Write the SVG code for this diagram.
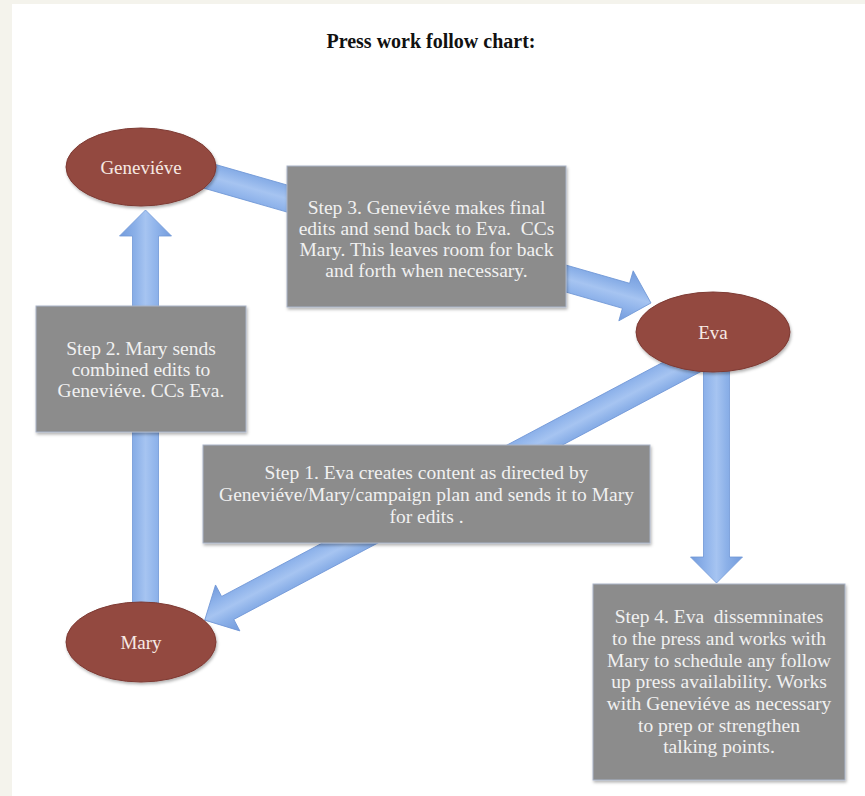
<svg xmlns="http://www.w3.org/2000/svg" width="865" height="796" viewBox="0 0 865 796">
  <defs>
    <style>
      .box { fill: #8c8c8c; stroke: #a9b4c8; stroke-width: 1; filter: url(#shadow); }
      .node { fill: #934840; stroke: #7d3a33; stroke-width: 1; filter: url(#shadow); }
      .arrow { fill: url(#blue); stroke: #7097d6; stroke-width: 0.8; }
      .t { font-family: "Liberation Serif", "Times New Roman", serif; font-size: 19.5px; fill: #f1f1f1; text-anchor: middle; }
      .n { font-family: "Liberation Serif", "Times New Roman", serif; font-size: 19px; fill: #f7e9e4; text-anchor: middle; }
      .title { font-family: "Liberation Serif", "Times New Roman", serif; font-size: 20px; font-weight: bold; fill: #111; text-anchor: middle; }
    </style>
    <linearGradient id="blue" x1="0" y1="0" x2="0" y2="1">
      <stop offset="0" stop-color="#739bdc"/>
      <stop offset="0.3" stop-color="#8bb0e8"/>
      <stop offset="0.5" stop-color="#a6c4f1"/>
      <stop offset="0.7" stop-color="#90b4eb"/>
      <stop offset="1" stop-color="#739bdc"/>
    </linearGradient>
    <filter id="shadow" x="-10%" y="-10%" width="125%" height="130%">
      <feDropShadow dx="1" dy="2" stdDeviation="1.5" flood-color="#000" flood-opacity="0.3"/>
    </filter>
  </defs>

  <rect x="0" y="0" width="865" height="796" fill="#ffffff"/>
  <rect x="0" y="0" width="12" height="796" fill="#f4f3ec"/>
  <rect x="0" y="0" width="865" height="4" fill="#f4f3ec"/>

  <text class="title" x="431" y="48">Press work follow chart:</text>

  <g id="connectors">
    <!-- Mary -> Genevieve -->
    <path class="arrow" transform="translate(145.5,605) rotate(-90)" d="M0,-13 H369 V-26 L395,0 L369,26 V13 H0 Z"/>
    <!-- Genevieve -> Eva -->
    <path class="arrow" transform="translate(205,175) rotate(16.01)" d="M0,-13 H438 V-26 L464,0 L438,26 V13 H0 Z"/>
    <!-- Eva -> Mary -->
    <path class="arrow" transform="translate(695,360) rotate(152.05)" d="M0,-13 H529 V-26 L555,0 L529,26 V13 H0 Z"/>
    <!-- Eva -> Step 4 -->
    <path class="arrow" transform="translate(716.5,368) rotate(90)" d="M0,-13 H189 V-26 L215,0 L189,26 V13 H0 Z"/>
  </g>

  <g id="genevieve">
    <ellipse class="node" cx="141" cy="167" rx="75" ry="39"/>
    <text class="n" x="141" y="174">Geneviéve</text>
  </g>
  <g id="eva">
    <ellipse class="node" cx="713" cy="332" rx="77" ry="40"/>
    <text class="n" x="713" y="339">Eva</text>
  </g>
  <g id="mary">
    <ellipse class="node" cx="141" cy="642" rx="75" ry="40"/>
    <text class="n" x="141" y="649">Mary</text>
  </g>

  <g id="step3">
    <rect class="box" x="287" y="166" width="279" height="141"/>
    <text class="t" x="426.5" xml:space="preserve"><tspan x="426.5" y="214">Step 3. Geneviéve makes final</tspan><tspan x="426.5" y="235">edits and send back to Eva.  CCs</tspan><tspan x="426.5" y="256">Mary. This leaves room for back</tspan><tspan x="426.5" y="277">and forth when necessary.</tspan></text>
  </g>

  <g id="step2">
    <rect class="box" x="36" y="306" width="210" height="126"/>
    <text class="t" x="141"><tspan x="141" y="355">Step 2. Mary sends</tspan><tspan x="141" y="376">combined edits to</tspan><tspan x="141" y="397">Geneviéve. CCs Eva.</tspan></text>
  </g>

  <g id="step1">
    <rect class="box" x="203" y="445" width="447" height="98"/>
    <text class="t" x="426.5"><tspan x="426.5" y="479">Step 1. Eva creates content as directed by</tspan><tspan x="426.5" y="501">Geneviéve/Mary/campaign plan and sends it to Mary</tspan><tspan x="426.5" y="523">for edits .</tspan></text>
  </g>

  <g id="step4">
    <rect class="box" x="593" y="584" width="252" height="196"/>
    <text class="t" x="719" xml:space="preserve"><tspan x="719" y="623">Step 4. Eva  dissemninates</tspan><tspan x="719" y="645">to the press and works with</tspan><tspan x="719" y="667">Mary to schedule any follow</tspan><tspan x="719" y="688">up press availability. Works</tspan><tspan x="719" y="710">with Geneviéve as necessary</tspan><tspan x="719" y="732">to prep or strengthen</tspan><tspan x="719" y="753">talking points.</tspan></text>
  </g>
</svg>
